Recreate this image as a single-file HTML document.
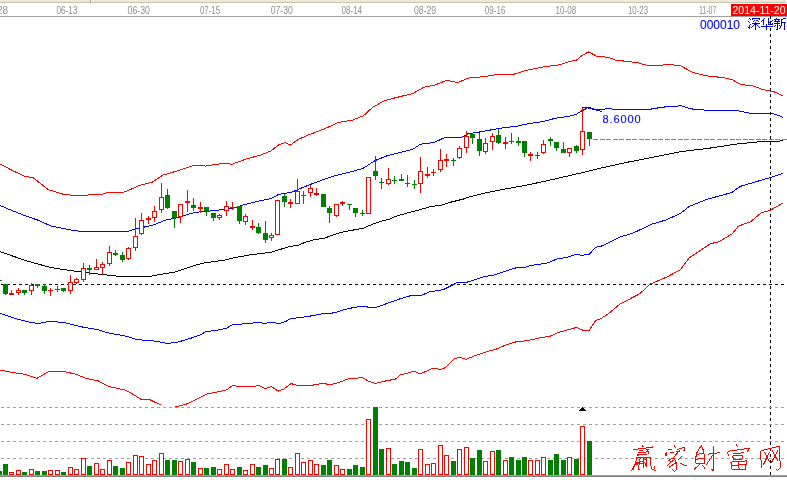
<!DOCTYPE html>
<html><head><meta charset="utf-8"><title>chart</title>
<style>html,body{margin:0;padding:0;background:#fff;}body{width:787px;height:483px;overflow:hidden;font-family:"Liberation Sans",sans-serif;}svg{display:block;}text{font-family:"Liberation Sans",sans-serif;}</style>
</head><body>
<svg width="787" height="483" viewBox="0 0 787 483">
<rect x="0" y="0" width="787" height="483" fill="#ffffff"/>
<g shape-rendering="crispEdges">
<rect x="0" y="0" width="786" height="2" fill="#ece9d8"/>
<rect x="0" y="2" width="786" height="1" fill="#c6c3b1"/>
<rect x="90" y="0" width="1" height="3" fill="#a8a594"/><rect x="91" y="0" width="1" height="2" fill="#ffffff"/>
<rect x="0" y="16" width="787" height="1" fill="#a0a0a0"/>
<rect x="731" y="4" width="56" height="12" fill="#ff0000"/>
</g>
<defs><filter id="gs" x="0" y="0" width="1" height="1" filterUnits="objectBoundingBox" color-interpolation-filters="sRGB"><feColorMatrix type="matrix" values="1 0 0 0 0 0 1 0 0 0 0 0 1 0 0 0 0 0 1 0"/></filter></defs>
<g filter="url(#gs)">
<text x="-3" y="14" font-size="10.2" fill="#8e8e8e" textLength="11" lengthAdjust="spacingAndGlyphs">28</text>
<text x="56.4" y="14" font-size="10.2" fill="#8e8e8e" textLength="21.1" lengthAdjust="spacingAndGlyphs">06-13</text>
<text x="127.6" y="14" font-size="10.2" fill="#8e8e8e" textLength="22.4" lengthAdjust="spacingAndGlyphs">06-30</text>
<text x="199.9" y="14" font-size="10.2" fill="#8e8e8e" textLength="20.2" lengthAdjust="spacingAndGlyphs">07-15</text>
<text x="270.8" y="14" font-size="10.2" fill="#8e8e8e" textLength="21.9" lengthAdjust="spacingAndGlyphs">07-30</text>
<text x="341.5" y="14" font-size="10.2" fill="#8e8e8e" textLength="20.6" lengthAdjust="spacingAndGlyphs">08-14</text>
<text x="413.9" y="14" font-size="10.2" fill="#8e8e8e" textLength="22.1" lengthAdjust="spacingAndGlyphs">08-29</text>
<text x="484.8" y="14" font-size="10.2" fill="#8e8e8e" textLength="20.6" lengthAdjust="spacingAndGlyphs">09-16</text>
<text x="555.6" y="14" font-size="10.2" fill="#8e8e8e" textLength="20.5" lengthAdjust="spacingAndGlyphs">10-08</text>
<text x="628.0" y="14" font-size="10.2" fill="#8e8e8e" textLength="20.0" lengthAdjust="spacingAndGlyphs">10-23</text>
<text x="698.9" y="14" font-size="10.2" fill="#8e8e8e" textLength="17.6" lengthAdjust="spacingAndGlyphs">11-07</text>
<text x="732.5" y="14.3" font-size="10.4" fill="#ffffff" textLength="53" lengthAdjust="spacingAndGlyphs">2014-11-20</text>
<text x="700" y="28.6" font-size="12" fill="#0000ff" stroke="#0000ff" stroke-width="0.1" textLength="40" lengthAdjust="spacingAndGlyphs">000010</text>
</g>
<path d="M749 18h1v1h-1zM752 18h8v1h-8zM750 19h1v1h-1zM752 19h1v1h-1zM759 19h1v1h-1zM754 20h1v1h-1zM756 20h2v1h-2zM748 21h1v1h-1zM753 21h1v1h-1zM758 21h1v1h-1zM749 22h1v1h-1zM755 22h1v1h-1zM752 23h8v1h-8zM750 24h1v1h-1zM754 24h3v1h-3zM749 25h1v1h-1zM753 25h1v1h-1zM755 25h1v1h-1zM757 25h1v1h-1zM749 26h1v1h-1zM752 26h1v1h-1zM755 26h1v1h-1zM758 26h1v1h-1zM748 27h2v1h-2zM751 27h1v1h-1zM755 27h1v1h-1zM759 27h1v1h-1zM749 28h1v1h-1zM755 28h1v1h-1zM755 29h1v1h-1z" fill="#0000ff" shape-rendering="crispEdges"/>
<path d="M764 18h1v1h-1zM768 18h1v1h-1zM763 19h1v1h-1zM768 19h1v1h-1zM762 20h2v1h-2zM768 20h1v1h-1zM772 20h1v1h-1zM761 21h1v1h-1zM763 21h1v1h-1zM768 21h1v1h-1zM770 21h2v1h-2zM763 22h1v1h-1zM768 22h2v1h-2zM763 23h1v1h-1zM768 23h1v1h-1zM772 23h1v1h-1zM763 24h1v1h-1zM766 24h1v1h-1zM768 24h5v1h-5zM766 25h1v1h-1zM761 26h12v1h-12zM766 27h1v1h-1zM766 28h1v1h-1zM766 29h1v1h-1z" fill="#0000ff" shape-rendering="crispEdges"/>
<path d="M776 18h1v1h-1zM783 18h3v1h-3zM774 19h6v1h-6zM781 19h2v1h-2zM775 20h1v1h-1zM778 20h1v1h-1zM781 20h1v1h-1zM774 21h6v1h-6zM781 21h1v1h-1zM777 22h1v1h-1zM781 22h5v1h-5zM774 23h6v1h-6zM781 23h1v1h-1zM784 23h1v1h-1zM777 24h1v1h-1zM781 24h1v1h-1zM784 24h1v1h-1zM775 25h1v1h-1zM777 25h1v1h-1zM779 25h1v1h-1zM781 25h1v1h-1zM784 25h1v1h-1zM774 26h1v1h-1zM777 26h1v1h-1zM780 26h1v1h-1zM784 26h1v1h-1zM777 27h1v1h-1zM780 27h1v1h-1zM784 27h1v1h-1zM777 28h1v1h-1zM779 28h1v1h-1zM784 28h1v1h-1zM776 29h2v1h-2zM784 29h1v1h-1z" fill="#0000ff" shape-rendering="crispEdges"/>
<defs><clipPath id="cm"><rect x="0" y="17" width="787" height="390"/></clipPath></defs>
<g shape-rendering="crispEdges">
<line x1="1" y1="284.5" x2="787" y2="284.5" stroke="#000" stroke-width="1" stroke-dasharray="3 3"/>
<line x1="770.5" y1="16" x2="770.5" y2="475" stroke="#000" stroke-width="1" stroke-dasharray="3 3"/>
<line x1="593" y1="139.5" x2="787" y2="139.5" stroke="#808080" stroke-width="1" stroke-dasharray="5 2 5 1"/>
<line x1="1" y1="407.5" x2="787" y2="407.5" stroke="#a0a0a0" stroke-width="1" stroke-dasharray="3 3"/>
<line x1="1" y1="424.5" x2="787" y2="424.5" stroke="#a0a0a0" stroke-width="1" stroke-dasharray="3 3"/>
<line x1="1" y1="441.5" x2="787" y2="441.5" stroke="#a0a0a0" stroke-width="1" stroke-dasharray="3 3"/>
<line x1="1" y1="458.5" x2="787" y2="458.5" stroke="#a0a0a0" stroke-width="1" stroke-dasharray="3 3"/>
<rect x="0" y="475" width="787" height="1" fill="#a0a0a0"/><rect x="0" y="476" width="787" height="1" fill="#808080"/>
</g>
<g clip-path="url(#cm)" shape-rendering="crispEdges">
<polyline points="0.0,163.8 12.7,170.7 25.4,176.5 33.0,177.5 48.3,189.7 63.5,194.3 76.2,195.6 101.6,194.3 109.0,192.3 124.5,192.0 139.8,185.4 152.5,182.0 162.6,175.2 177.9,170.7 193.0,165.6 200.0,165.1 205.0,166.1 225.4,163.0 231.8,164.3 245.7,159.2 261.0,154.9 271.2,150.8 278.8,144.7 285.1,142.7 290.2,145.2 297.8,139.7 309.3,134.6 324.2,128.9 338.5,122.5 352.7,120.0 363.4,115.8 372.3,107.6 384.7,100.5 398.9,96.9 413.2,93.4 423.8,87.3 434.5,85.2 447.0,80.2 457.6,82.7 468.3,78.1 484.3,76.6 496.8,74.5 512.8,74.5 527.0,70.2 544.8,66.7 559.0,64.9 570.0,61.5 576.9,59.9 582.4,55.2 588.7,51.9 596.2,56.0 608.6,57.4 615.5,60.1 637.5,62.6 647.2,65.4 661.0,65.4 666.5,64.3 680.3,65.6 692.7,72.5 710.6,76.7 721.6,77.2 732.7,80.0 741.0,84.7 752.0,85.5 763.0,89.6 774.0,91.8 782.8,95.7" fill="none" stroke="#ff0000" stroke-width="1"/>
<polyline points="0.0,370.0 12.7,372.6 25.4,374.4 36.8,378.4 48.3,371.8 63.5,371.3 76.2,374.4 86.4,378.4 97.8,380.7 109.3,386.6 124.5,389.9 132.1,393.7 141.0,399.3 150.0,399.8 160.6,404.9" fill="none" stroke="#ff0000" stroke-width="1"/><polyline points="174.0,407.4 188.0,403.6 200.0,397.6 206.4,394.2 215.2,392.4 226.7,389.9 233.0,385.3 238.1,386.6 253.4,386.6 258.4,385.3 265.6,388.6 271.2,386.6 278.3,391.1 283.9,389.1 291.0,383.5 296.6,385.3 311.8,385.3 322.0,383.5 330.9,384.5 339.8,382.2 349.9,378.2 357.6,378.2 361.9,377.2 369.0,381.5 375.3,383.5 385.5,381.0 395.7,379.0 400.0,375.1 414.0,371.3 420.3,373.9 433.0,368.3 440.7,369.5 445.7,367.5 454.6,358.6 459.7,357.3 466.1,359.4 473.7,356.1 486.4,351.8 496.6,349.0 506.7,344.6 516.9,341.6 527.1,340.8 539.8,337.8 549.9,336.3 557.6,332.7 567.7,329.9 576.6,327.4 583.0,330.2 589.3,330.2 595.8,320.2 600.0,319.2 608.1,313.9 620.5,303.7 639.8,293.8 649.7,284.3 666.2,277.3 680.3,269.9 689.1,257.9 699.7,250.8 710.2,243.8 719.0,241.7 732.1,233.9 738.4,226.2 750.7,221.6 761.3,212.8 770.1,210.4 783.1,203.0" fill="none" stroke="#ff0000" stroke-width="1"/>
<polyline points="0.0,205.5 12.7,210.8 25.4,215.9 38.1,220.2 50.8,226.0 63.5,228.6 76.2,230.9 89.0,231.6 127.0,231.6 137.2,228.6 152.5,225.3 165.2,220.2 177.9,217.7 190.6,213.4 200.0,211.8 212.7,210.8 233.0,208.3 240.7,205.7 255.9,201.7 271.2,198.6 278.8,194.3 291.5,192.3 301.7,187.9 314.4,182.9 332.1,176.5 347.4,172.7 362.6,168.6 375.3,160.5 388.0,155.4 400.0,152.6 412.7,149.4 420.3,144.3 434.3,142.4 445.1,137.4 461.0,137.4 468.6,133.5 476.2,132.6 489.0,130.3 500.0,128.2 517.0,126.2 529.8,123.4 542.5,121.6 555.2,118.3 567.9,116.5 576.0,114.5 577.5,113.5 579.0,112.5 580.5,111.5 582.5,110.5 584.5,109.5 586.5,108.5 588.0,107.5 590.5,107.5 591.5,108.5 593.0,108.5 594.5,109.5 604.5,109.5 605.5,108.5 611.8,108.5 612.5,109.5 651.0,109.5 651.9,108.5 657.0,108.5 657.6,107.5 664.0,107.5 664.6,106.5 675.0,106.5 680.3,105.5 691.3,108.9 707.9,110.3 735.4,110.3 749.2,113.1 763.0,113.9 774.0,113.9 782.8,117.2" fill="none" stroke="#0000ff" stroke-width="1"/>
<polyline points="0.0,313.4 15.2,318.5 30.5,322.3 38.1,323.5 49.6,321.3 63.5,322.5 81.3,326.8 96.6,329.4 109.3,333.2 127.0,336.3 137.2,339.6 152.5,340.8 167.7,343.4 177.9,342.1 190.6,338.3 200.0,335.0 206.4,331.4 215.2,330.7 226.7,328.1 233.0,324.3 248.3,323.8 257.2,322.3 264.8,323.5 271.2,322.3 278.8,323.5 285.1,321.8 291.0,318.5 301.7,317.4 314.4,315.4 324.5,313.4 334.7,312.9 346.1,309.1 355.0,307.3 362.6,306.0 369.0,307.3 376.6,307.3 385.5,304.0 400.0,298.8 410.2,295.8 421.6,295.3 429.2,292.0 443.2,289.7 457.2,282.6 467.3,282.1 483.9,276.7 494.0,275.0 514.4,268.1 524.5,267.3 532.1,265.3 547.4,263.0 556.3,259.2 567.7,257.2 576.6,254.1 581.7,255.4 589.3,254.1 595.8,247.3 601.0,246.3 620.5,236.8 632.8,233.2 652.1,224.1 666.2,219.9 680.3,213.5 689.1,206.5 706.7,199.4 731.4,192.7 740.2,186.4 770.1,177.6 783.1,173.4" fill="none" stroke="#0000ff" stroke-width="1"/>
<polyline points="0.0,251.6 25.4,260.5 50.8,267.6 76.2,271.4 101.6,274.5 119.4,276.3 150.0,276.3 175.3,271.9 180.0,270.4 195.2,265.2 202.9,263.2 225.7,259.9 231.8,258.2 248.6,255.1 271.5,252.1 290.0,246.4 297.6,245.5 305.2,242.3 315.4,239.4 324.3,238.3 331.9,235.3 340.8,232.4 351.0,230.5 363.7,228.0 373.9,223.6 384.0,220.3 390.0,219.2 392.7,217.3 405.4,213.5 418.1,210.3 430.8,206.5 441.0,205.2 451.2,202.1 463.9,198.9 470.0,196.7 486.5,192.7 503.0,189.4 519.6,186.4 536.1,183.1 552.6,179.5 569.1,175.7 585.6,171.9 600.0,168.3 625.1,162.7 652.7,157.2 680.3,151.7 707.9,148.4 735.4,144.2 757.5,142.0 782.8,140.9" fill="none" stroke="#000000" stroke-width="1"/>
<polyline points="582,107.5 585.5,107.5 602.5,111.5" fill="none" stroke="#0000ff" stroke-width="1"/>
</g>
<g filter="url(#gs)"><text x="602.5" y="122.8" font-size="11" fill="#0000ff" stroke="#0000ff" stroke-width="0.12" textLength="38" lengthAdjust="spacing">8.6000</text></g>
<g shape-rendering="crispEdges">
<rect x="0" y="280" width="2" height="1" fill="#008000"/>
<rect x="5" y="284" width="1" height="11" fill="#008000"/>
<rect x="3" y="284" width="5" height="10" fill="#008000"/>
<rect x="11" y="290" width="1" height="5" fill="#ff0000"/>
<rect x="9" y="293" width="5" height="2" fill="#ff0000"/>
<rect x="18" y="288" width="1" height="7" fill="#ff0000"/>
<rect x="16" y="290" width="5" height="3" fill="#ff0000"/>
<rect x="17" y="291" width="3" height="1" fill="#fff"/>
<rect x="24" y="290" width="1" height="5" fill="#008000"/>
<rect x="22" y="290" width="5" height="3" fill="#008000"/>
<rect x="31" y="283" width="1" height="12" fill="#ff0000"/>
<rect x="29" y="285" width="5" height="6" fill="#ff0000"/>
<rect x="30" y="286" width="3" height="4" fill="#fff"/>
<rect x="37" y="284" width="1" height="4" fill="#008000"/>
<rect x="35" y="284" width="5" height="2" fill="#008000"/>
<rect x="44" y="284" width="1" height="10" fill="#008000"/>
<rect x="42" y="286" width="5" height="5" fill="#008000"/>
<rect x="50" y="288" width="1" height="8" fill="#ff0000"/>
<rect x="48" y="290" width="5" height="1" fill="#ff0000"/>
<rect x="57" y="286" width="1" height="6" fill="#ff0000"/>
<rect x="55" y="289" width="5" height="1" fill="#ff0000"/>
<rect x="63" y="288" width="1" height="4" fill="#008000"/>
<rect x="61" y="288" width="5" height="3" fill="#008000"/>
<rect x="70" y="275" width="1" height="19" fill="#ff0000"/>
<rect x="68" y="282" width="5" height="9" fill="#ff0000"/>
<rect x="69" y="283" width="3" height="7" fill="#fff"/>
<rect x="76" y="278" width="1" height="6" fill="#ff0000"/>
<rect x="74" y="279" width="5" height="4" fill="#ff0000"/>
<rect x="75" y="280" width="3" height="2" fill="#fff"/>
<rect x="83" y="263" width="1" height="19" fill="#ff0000"/>
<rect x="81" y="268" width="5" height="12" fill="#ff0000"/>
<rect x="82" y="269" width="3" height="10" fill="#fff"/>
<rect x="89" y="265" width="1" height="10" fill="#008000"/>
<rect x="87" y="268" width="5" height="2" fill="#008000"/>
<rect x="96" y="259" width="1" height="11" fill="#ff0000"/>
<rect x="94" y="267" width="5" height="3" fill="#ff0000"/>
<rect x="95" y="268" width="3" height="1" fill="#fff"/>
<rect x="102" y="262" width="1" height="12" fill="#ff0000"/>
<rect x="100" y="264" width="5" height="4" fill="#ff0000"/>
<rect x="101" y="265" width="3" height="2" fill="#fff"/>
<rect x="109" y="246" width="1" height="20" fill="#ff0000"/>
<rect x="107" y="252" width="5" height="12" fill="#ff0000"/>
<rect x="108" y="253" width="3" height="10" fill="#fff"/>
<rect x="115" y="250" width="1" height="6" fill="#008000"/>
<rect x="113" y="253" width="5" height="2" fill="#008000"/>
<rect x="122" y="252" width="1" height="10" fill="#008000"/>
<rect x="120" y="255" width="5" height="5" fill="#008000"/>
<rect x="128" y="247" width="1" height="13" fill="#ff0000"/>
<rect x="126" y="248" width="5" height="11" fill="#ff0000"/>
<rect x="127" y="249" width="3" height="9" fill="#fff"/>
<rect x="135" y="218" width="1" height="33" fill="#ff0000"/>
<rect x="133" y="236" width="5" height="12" fill="#ff0000"/>
<rect x="134" y="237" width="3" height="10" fill="#fff"/>
<rect x="141" y="213" width="1" height="22" fill="#ff0000"/>
<rect x="139" y="220" width="5" height="14" fill="#ff0000"/>
<rect x="140" y="221" width="3" height="12" fill="#fff"/>
<rect x="148" y="216" width="1" height="8" fill="#ff0000"/>
<rect x="146" y="218" width="5" height="2" fill="#ff0000"/>
<rect x="154" y="206" width="1" height="16" fill="#ff0000"/>
<rect x="152" y="211" width="5" height="7" fill="#ff0000"/>
<rect x="153" y="212" width="3" height="5" fill="#fff"/>
<rect x="161" y="183" width="1" height="30" fill="#ff0000"/>
<rect x="159" y="197" width="5" height="13" fill="#ff0000"/>
<rect x="160" y="198" width="3" height="11" fill="#fff"/>
<rect x="167" y="189" width="1" height="20" fill="#008000"/>
<rect x="165" y="195" width="5" height="13" fill="#008000"/>
<rect x="174" y="211" width="1" height="17" fill="#008000"/>
<rect x="172" y="211" width="5" height="7" fill="#008000"/>
<rect x="180" y="204" width="1" height="19" fill="#ff0000"/>
<rect x="178" y="204" width="5" height="13" fill="#ff0000"/>
<rect x="179" y="205" width="3" height="11" fill="#fff"/>
<rect x="187" y="190" width="1" height="22" fill="#ff0000"/>
<rect x="185" y="201" width="5" height="2" fill="#ff0000"/>
<rect x="193" y="198" width="1" height="13" fill="#008000"/>
<rect x="191" y="205" width="5" height="3" fill="#008000"/>
<rect x="200" y="202" width="1" height="11" fill="#ff0000"/>
<rect x="198" y="207" width="5" height="2" fill="#ff0000"/>
<rect x="206" y="207" width="1" height="9" fill="#008000"/>
<rect x="204" y="207" width="5" height="4" fill="#008000"/>
<rect x="213" y="213" width="1" height="8" fill="#008000"/>
<rect x="211" y="213" width="5" height="5" fill="#008000"/>
<rect x="219" y="214" width="1" height="6" fill="#ff0000"/>
<rect x="217" y="215" width="5" height="3" fill="#ff0000"/>
<rect x="218" y="216" width="3" height="1" fill="#fff"/>
<rect x="226" y="201" width="1" height="15" fill="#ff0000"/>
<rect x="224" y="206" width="5" height="5" fill="#ff0000"/>
<rect x="225" y="207" width="3" height="3" fill="#fff"/>
<rect x="232" y="202" width="1" height="8" fill="#ff0000"/>
<rect x="230" y="207" width="5" height="1" fill="#ff0000"/>
<rect x="239" y="206" width="1" height="18" fill="#008000"/>
<rect x="237" y="206" width="5" height="15" fill="#008000"/>
<rect x="245" y="214" width="1" height="11" fill="#ff0000"/>
<rect x="243" y="216" width="5" height="6" fill="#ff0000"/>
<rect x="244" y="217" width="3" height="4" fill="#fff"/>
<rect x="252" y="220" width="1" height="10" fill="#ff0000"/>
<rect x="250" y="226" width="5" height="2" fill="#ff0000"/>
<rect x="258" y="223" width="1" height="11" fill="#008000"/>
<rect x="256" y="227" width="5" height="6" fill="#008000"/>
<rect x="265" y="221" width="1" height="22" fill="#008000"/>
<rect x="263" y="233" width="5" height="7" fill="#008000"/>
<rect x="271" y="233" width="1" height="8" fill="#ff0000"/>
<rect x="269" y="235" width="5" height="3" fill="#ff0000"/>
<rect x="270" y="236" width="3" height="1" fill="#fff"/>
<rect x="277" y="200" width="1" height="35" fill="#ff0000"/>
<rect x="275" y="200" width="5" height="35" fill="#ff0000"/>
<rect x="276" y="201" width="3" height="33" fill="#fff"/>
<rect x="284" y="194" width="1" height="13" fill="#008000"/>
<rect x="282" y="196" width="5" height="6" fill="#008000"/>
<rect x="290" y="199" width="1" height="9" fill="#ff0000"/>
<rect x="288" y="202" width="5" height="2" fill="#ff0000"/>
<rect x="297" y="179" width="1" height="25" fill="#ff0000"/>
<rect x="295" y="191" width="5" height="13" fill="#ff0000"/>
<rect x="296" y="192" width="3" height="11" fill="#fff"/>
<rect x="303" y="191" width="1" height="13" fill="#ff0000"/>
<rect x="301" y="195" width="5" height="1" fill="#ff0000"/>
<rect x="310" y="185" width="1" height="12" fill="#ff0000"/>
<rect x="308" y="188" width="5" height="5" fill="#ff0000"/>
<rect x="309" y="189" width="3" height="3" fill="#fff"/>
<rect x="316" y="188" width="1" height="8" fill="#ff0000"/>
<rect x="314" y="193" width="5" height="2" fill="#ff0000"/>
<rect x="323" y="194" width="1" height="13" fill="#008000"/>
<rect x="321" y="194" width="5" height="13" fill="#008000"/>
<rect x="329" y="206" width="1" height="17" fill="#008000"/>
<rect x="327" y="208" width="5" height="5" fill="#008000"/>
<rect x="336" y="204" width="1" height="13" fill="#ff0000"/>
<rect x="334" y="204" width="5" height="12" fill="#ff0000"/>
<rect x="335" y="205" width="3" height="10" fill="#fff"/>
<rect x="342" y="201" width="1" height="5" fill="#ff0000"/>
<rect x="340" y="202" width="5" height="2" fill="#ff0000"/>
<rect x="349" y="204" width="1" height="6" fill="#008000"/>
<rect x="347" y="204" width="5" height="1" fill="#008000"/>
<rect x="355" y="208" width="1" height="9" fill="#008000"/>
<rect x="353" y="208" width="5" height="5" fill="#008000"/>
<rect x="362" y="210" width="1" height="6" fill="#008000"/>
<rect x="360" y="213" width="5" height="1" fill="#008000"/>
<rect x="368" y="177" width="1" height="37" fill="#ff0000"/>
<rect x="366" y="177" width="5" height="37" fill="#ff0000"/>
<rect x="367" y="178" width="3" height="35" fill="#fff"/>
<rect x="375" y="156" width="1" height="24" fill="#008000"/>
<rect x="373" y="171" width="5" height="5" fill="#008000"/>
<rect x="381" y="178" width="1" height="11" fill="#008000"/>
<rect x="379" y="182" width="5" height="1" fill="#008000"/>
<rect x="388" y="168" width="1" height="17" fill="#ff0000"/>
<rect x="386" y="179" width="5" height="5" fill="#ff0000"/>
<rect x="387" y="180" width="3" height="3" fill="#fff"/>
<rect x="394" y="176" width="1" height="8" fill="#008000"/>
<rect x="392" y="180" width="5" height="1" fill="#008000"/>
<rect x="401" y="174" width="1" height="7" fill="#008000"/>
<rect x="399" y="179" width="5" height="2" fill="#008000"/>
<rect x="407" y="175" width="1" height="12" fill="#008000"/>
<rect x="405" y="183" width="5" height="1" fill="#008000"/>
<rect x="414" y="180" width="1" height="9" fill="#008000"/>
<rect x="412" y="184" width="5" height="1" fill="#008000"/>
<rect x="420" y="157" width="1" height="36" fill="#ff0000"/>
<rect x="418" y="171" width="5" height="13" fill="#ff0000"/>
<rect x="419" y="172" width="3" height="11" fill="#fff"/>
<rect x="427" y="167" width="1" height="11" fill="#ff0000"/>
<rect x="425" y="174" width="5" height="2" fill="#ff0000"/>
<rect x="433" y="169" width="1" height="7" fill="#ff0000"/>
<rect x="431" y="172" width="5" height="1" fill="#ff0000"/>
<rect x="440" y="149" width="1" height="23" fill="#ff0000"/>
<rect x="438" y="160" width="5" height="10" fill="#ff0000"/>
<rect x="439" y="161" width="3" height="8" fill="#fff"/>
<rect x="446" y="154" width="1" height="13" fill="#ff0000"/>
<rect x="444" y="159" width="5" height="2" fill="#ff0000"/>
<rect x="453" y="158" width="1" height="8" fill="#008000"/>
<rect x="451" y="160" width="5" height="1" fill="#008000"/>
<rect x="459" y="146" width="1" height="13" fill="#ff0000"/>
<rect x="457" y="148" width="5" height="10" fill="#ff0000"/>
<rect x="458" y="149" width="3" height="8" fill="#fff"/>
<rect x="466" y="131" width="1" height="22" fill="#ff0000"/>
<rect x="464" y="136" width="5" height="12" fill="#ff0000"/>
<rect x="465" y="137" width="3" height="10" fill="#fff"/>
<rect x="472" y="133" width="1" height="11" fill="#008000"/>
<rect x="470" y="134" width="5" height="4" fill="#008000"/>
<rect x="479" y="133" width="1" height="23" fill="#008000"/>
<rect x="477" y="139" width="5" height="12" fill="#008000"/>
<rect x="485" y="138" width="1" height="16" fill="#ff0000"/>
<rect x="483" y="143" width="5" height="9" fill="#ff0000"/>
<rect x="484" y="144" width="3" height="7" fill="#fff"/>
<rect x="492" y="133" width="1" height="17" fill="#ff0000"/>
<rect x="490" y="136" width="5" height="6" fill="#ff0000"/>
<rect x="491" y="137" width="3" height="4" fill="#fff"/>
<rect x="498" y="129" width="1" height="15" fill="#008000"/>
<rect x="496" y="135" width="5" height="8" fill="#008000"/>
<rect x="505" y="137" width="1" height="12" fill="#ff0000"/>
<rect x="503" y="142" width="5" height="2" fill="#ff0000"/>
<rect x="511" y="133" width="1" height="11" fill="#008000"/>
<rect x="509" y="141" width="5" height="1" fill="#008000"/>
<rect x="518" y="137" width="1" height="9" fill="#008000"/>
<rect x="516" y="141" width="5" height="2" fill="#008000"/>
<rect x="524" y="141" width="1" height="16" fill="#008000"/>
<rect x="522" y="141" width="5" height="12" fill="#008000"/>
<rect x="530" y="152" width="1" height="9" fill="#ff0000"/>
<rect x="528" y="154" width="5" height="2" fill="#ff0000"/>
<rect x="537" y="152" width="1" height="7" fill="#ff0000"/>
<rect x="535" y="155" width="5" height="1" fill="#ff0000"/>
<rect x="543" y="140" width="1" height="14" fill="#ff0000"/>
<rect x="541" y="144" width="5" height="9" fill="#ff0000"/>
<rect x="542" y="145" width="3" height="7" fill="#fff"/>
<rect x="550" y="137" width="1" height="9" fill="#008000"/>
<rect x="548" y="139" width="5" height="2" fill="#008000"/>
<rect x="556" y="142" width="1" height="9" fill="#008000"/>
<rect x="554" y="142" width="5" height="6" fill="#008000"/>
<rect x="563" y="142" width="1" height="11" fill="#008000"/>
<rect x="561" y="149" width="5" height="4" fill="#008000"/>
<rect x="569" y="148" width="1" height="9" fill="#ff0000"/>
<rect x="567" y="148" width="5" height="5" fill="#ff0000"/>
<rect x="568" y="149" width="3" height="3" fill="#fff"/>
<rect x="576" y="145" width="1" height="8" fill="#008000"/>
<rect x="574" y="146" width="5" height="5" fill="#008000"/>
<rect x="582" y="108" width="1" height="47" fill="#ff0000"/>
<rect x="580" y="131" width="5" height="19" fill="#ff0000"/>
<rect x="581" y="132" width="3" height="17" fill="#fff"/>
<rect x="589" y="132" width="1" height="14" fill="#008000"/>
<rect x="587" y="132" width="5" height="7" fill="#008000"/>
<rect x="0" y="471" width="2" height="4" fill="#008000"/>
<rect x="3" y="464" width="5" height="11" fill="#008000"/>
<rect x="9" y="472" width="5" height="3" fill="#ff0000"/>
<rect x="10" y="473" width="3" height="1" fill="#fff"/>
<rect x="16" y="470" width="5" height="5" fill="#ff0000"/>
<rect x="17" y="471" width="3" height="3" fill="#fff"/>
<rect x="22" y="472" width="5" height="3" fill="#008000"/>
<rect x="29" y="469" width="5" height="6" fill="#ff0000"/>
<rect x="30" y="470" width="3" height="4" fill="#fff"/>
<rect x="35" y="471" width="5" height="4" fill="#008000"/>
<rect x="42" y="471" width="5" height="4" fill="#008000"/>
<rect x="48" y="470" width="5" height="5" fill="#ff0000"/>
<rect x="49" y="471" width="3" height="3" fill="#fff"/>
<rect x="55" y="470" width="5" height="5" fill="#ff0000"/>
<rect x="56" y="471" width="3" height="3" fill="#fff"/>
<rect x="61" y="472" width="5" height="3" fill="#008000"/>
<rect x="68" y="467" width="5" height="8" fill="#ff0000"/>
<rect x="69" y="468" width="3" height="6" fill="#fff"/>
<rect x="74" y="469" width="5" height="6" fill="#ff0000"/>
<rect x="75" y="470" width="3" height="4" fill="#fff"/>
<rect x="81" y="458" width="5" height="17" fill="#ff0000"/>
<rect x="82" y="459" width="3" height="15" fill="#fff"/>
<rect x="87" y="466" width="5" height="9" fill="#008000"/>
<rect x="94" y="463" width="5" height="12" fill="#ff0000"/>
<rect x="95" y="464" width="3" height="10" fill="#fff"/>
<rect x="100" y="469" width="5" height="6" fill="#ff0000"/>
<rect x="101" y="470" width="3" height="4" fill="#fff"/>
<rect x="107" y="460" width="5" height="15" fill="#ff0000"/>
<rect x="108" y="461" width="3" height="13" fill="#fff"/>
<rect x="113" y="466" width="5" height="9" fill="#008000"/>
<rect x="120" y="468" width="5" height="7" fill="#008000"/>
<rect x="126" y="462" width="5" height="13" fill="#ff0000"/>
<rect x="127" y="463" width="3" height="11" fill="#fff"/>
<rect x="133" y="455" width="5" height="20" fill="#ff0000"/>
<rect x="134" y="456" width="3" height="18" fill="#fff"/>
<rect x="139" y="456" width="5" height="19" fill="#ff0000"/>
<rect x="140" y="457" width="3" height="17" fill="#fff"/>
<rect x="146" y="464" width="5" height="11" fill="#ff0000"/>
<rect x="147" y="465" width="3" height="9" fill="#fff"/>
<rect x="152" y="460" width="5" height="15" fill="#ff0000"/>
<rect x="153" y="461" width="3" height="13" fill="#fff"/>
<rect x="159" y="453" width="5" height="22" fill="#ff0000"/>
<rect x="160" y="454" width="3" height="20" fill="#fff"/>
<rect x="165" y="460" width="5" height="15" fill="#008000"/>
<rect x="172" y="460" width="5" height="15" fill="#008000"/>
<rect x="178" y="461" width="5" height="14" fill="#ff0000"/>
<rect x="179" y="462" width="3" height="12" fill="#fff"/>
<rect x="185" y="459" width="5" height="16" fill="#ff0000"/>
<rect x="186" y="460" width="3" height="14" fill="#fff"/>
<rect x="191" y="462" width="5" height="13" fill="#008000"/>
<rect x="198" y="468" width="5" height="7" fill="#ff0000"/>
<rect x="199" y="469" width="3" height="5" fill="#fff"/>
<rect x="204" y="468" width="5" height="7" fill="#008000"/>
<rect x="211" y="467" width="5" height="8" fill="#008000"/>
<rect x="217" y="469" width="5" height="6" fill="#ff0000"/>
<rect x="218" y="470" width="3" height="4" fill="#fff"/>
<rect x="224" y="464" width="5" height="11" fill="#ff0000"/>
<rect x="225" y="465" width="3" height="9" fill="#fff"/>
<rect x="230" y="469" width="5" height="6" fill="#ff0000"/>
<rect x="231" y="470" width="3" height="4" fill="#fff"/>
<rect x="237" y="467" width="5" height="8" fill="#008000"/>
<rect x="243" y="470" width="5" height="5" fill="#ff0000"/>
<rect x="244" y="471" width="3" height="3" fill="#fff"/>
<rect x="250" y="464" width="5" height="11" fill="#ff0000"/>
<rect x="251" y="465" width="3" height="9" fill="#fff"/>
<rect x="256" y="467" width="5" height="8" fill="#008000"/>
<rect x="263" y="465" width="5" height="10" fill="#008000"/>
<rect x="269" y="468" width="5" height="7" fill="#ff0000"/>
<rect x="270" y="469" width="3" height="5" fill="#fff"/>
<rect x="275" y="459" width="5" height="16" fill="#ff0000"/>
<rect x="276" y="460" width="3" height="14" fill="#fff"/>
<rect x="282" y="459" width="5" height="16" fill="#008000"/>
<rect x="288" y="467" width="5" height="8" fill="#ff0000"/>
<rect x="289" y="468" width="3" height="6" fill="#fff"/>
<rect x="295" y="453" width="5" height="22" fill="#ff0000"/>
<rect x="296" y="454" width="3" height="20" fill="#fff"/>
<rect x="301" y="462" width="5" height="13" fill="#ff0000"/>
<rect x="302" y="463" width="3" height="11" fill="#fff"/>
<rect x="308" y="460" width="5" height="15" fill="#ff0000"/>
<rect x="309" y="461" width="3" height="13" fill="#fff"/>
<rect x="314" y="464" width="5" height="11" fill="#ff0000"/>
<rect x="315" y="465" width="3" height="9" fill="#fff"/>
<rect x="321" y="465" width="5" height="10" fill="#008000"/>
<rect x="327" y="460" width="5" height="15" fill="#008000"/>
<rect x="334" y="465" width="5" height="10" fill="#ff0000"/>
<rect x="335" y="466" width="3" height="8" fill="#fff"/>
<rect x="340" y="469" width="5" height="6" fill="#ff0000"/>
<rect x="341" y="470" width="3" height="4" fill="#fff"/>
<rect x="347" y="469" width="5" height="6" fill="#008000"/>
<rect x="353" y="465" width="5" height="10" fill="#008000"/>
<rect x="360" y="467" width="5" height="8" fill="#008000"/>
<rect x="366" y="419" width="5" height="56" fill="#ff0000"/>
<rect x="367" y="420" width="3" height="54" fill="#fff"/>
<rect x="373" y="407" width="5" height="68" fill="#008000"/>
<rect x="379" y="449" width="5" height="26" fill="#008000"/>
<rect x="386" y="448" width="5" height="27" fill="#ff0000"/>
<rect x="387" y="449" width="3" height="25" fill="#fff"/>
<rect x="392" y="464" width="5" height="11" fill="#008000"/>
<rect x="399" y="461" width="5" height="14" fill="#008000"/>
<rect x="405" y="462" width="5" height="13" fill="#008000"/>
<rect x="412" y="468" width="5" height="7" fill="#008000"/>
<rect x="418" y="449" width="5" height="26" fill="#ff0000"/>
<rect x="419" y="450" width="3" height="24" fill="#fff"/>
<rect x="425" y="464" width="5" height="11" fill="#ff0000"/>
<rect x="426" y="465" width="3" height="9" fill="#fff"/>
<rect x="431" y="463" width="5" height="12" fill="#ff0000"/>
<rect x="432" y="464" width="3" height="10" fill="#fff"/>
<rect x="438" y="445" width="5" height="30" fill="#ff0000"/>
<rect x="439" y="446" width="3" height="28" fill="#fff"/>
<rect x="444" y="455" width="5" height="20" fill="#ff0000"/>
<rect x="445" y="456" width="3" height="18" fill="#fff"/>
<rect x="451" y="461" width="5" height="14" fill="#008000"/>
<rect x="457" y="449" width="5" height="26" fill="#ff0000"/>
<rect x="458" y="450" width="3" height="24" fill="#fff"/>
<rect x="464" y="447" width="5" height="28" fill="#ff0000"/>
<rect x="465" y="448" width="3" height="26" fill="#fff"/>
<rect x="470" y="458" width="5" height="17" fill="#008000"/>
<rect x="477" y="450" width="5" height="25" fill="#008000"/>
<rect x="483" y="461" width="5" height="14" fill="#ff0000"/>
<rect x="484" y="462" width="3" height="12" fill="#fff"/>
<rect x="490" y="451" width="5" height="24" fill="#ff0000"/>
<rect x="491" y="452" width="3" height="22" fill="#fff"/>
<rect x="496" y="450" width="5" height="25" fill="#008000"/>
<rect x="503" y="460" width="5" height="15" fill="#ff0000"/>
<rect x="504" y="461" width="3" height="13" fill="#fff"/>
<rect x="509" y="457" width="5" height="18" fill="#008000"/>
<rect x="516" y="460" width="5" height="15" fill="#008000"/>
<rect x="522" y="457" width="5" height="18" fill="#008000"/>
<rect x="528" y="460" width="5" height="15" fill="#ff0000"/>
<rect x="529" y="461" width="3" height="13" fill="#fff"/>
<rect x="535" y="460" width="5" height="15" fill="#ff0000"/>
<rect x="536" y="461" width="3" height="13" fill="#fff"/>
<rect x="541" y="457" width="5" height="18" fill="#ff0000"/>
<rect x="542" y="458" width="3" height="16" fill="#fff"/>
<rect x="548" y="460" width="5" height="15" fill="#008000"/>
<rect x="554" y="454" width="5" height="21" fill="#008000"/>
<rect x="561" y="460" width="5" height="15" fill="#008000"/>
<rect x="567" y="457" width="5" height="18" fill="#ff0000"/>
<rect x="568" y="458" width="3" height="16" fill="#fff"/>
<rect x="574" y="459" width="5" height="16" fill="#008000"/>
<rect x="580" y="426" width="5" height="49" fill="#ff0000"/>
<rect x="581" y="427" width="3" height="47" fill="#fff"/>
<rect x="587" y="441" width="5" height="34" fill="#008000"/>
<path d="M582 407h1v1h1v1h1v1h1v1h-7v-1h1v-1h1v-1h1z" fill="#000"/>
</g>
<path d="M641.8 445.3 L643.9 447.0 M633.3 449.5 L652.4 447.3 M652.0 446.1 L652.4 447.7 M638.6 450.5 L643.0 450.1 M645.5 450.1 L649.1 449.7 M637.8 452.6 L648.3 451.8 M647.9 450.1 L648.3 454.2 M637.3 454.2 L638.2 456.0 M638.2 454.8 L647.5 454.0 M636.1 457.9 L651.6 457.0 M636.9 458.3 L634.9 464.8 L632.5 469.6 L633.7 468.8 M634.9 462.7 L638.6 462.7 M634.9 463.8 L638.6 463.8 M634.9 464.8 L638.4 464.8 M640.2 458.3 L638.2 470.0 M638.2 468.8 L640.2 469.2 M643.4 458.3 L643.0 468.8 M640.2 461.5 L643.4 461.3 M640.2 464.0 L643.3 463.8 M646.7 458.3 L646.3 467.2 M643.4 459.5 L646.7 459.3 M644.7 461.5 L645.5 465.6 M650.0 457.9 L650.4 464.8 L652.4 469.6 L656.5 470.5 M654.0 465.6 L654.8 468.8" fill="none" stroke="#ff0000" stroke-width="1" shape-rendering="crispEdges"/>
<path d="M674.3 445.3 L675.3 448.1 M666.2 451.8 L665.4 455.8 M666.9 451.9 L666.0 455.8 M667.8 449.9 L671.5 449.3 M676.8 449.7 L684.1 447.3 L684.9 450.1 L682.5 451.3 M670.3 452.7 L673.9 452.2 M676.0 451.9 L679.6 451.3 M680.0 450.1 L673.5 457.4 L676.0 462.3 L676.8 469.6 L674.3 471.3 L671.9 468.8 M673.1 457.9 L667.8 461.1 M674.3 459.5 L667.0 465.6 M676.0 462.7 L668.7 467.6 M669.9 461.1 L671.1 461.9 M680.8 456.2 L682.1 457.0 M681.7 456.6 L678.0 460.3 M680.0 463.0 L686.5 466.0 M685.3 465.2 L686.5 466.4" fill="none" stroke="#ff0000" stroke-width="1" shape-rendering="crispEdges"/>
<path d="M701.2 445.4 L696.7 453.0 L695.5 459.1 L696.1 464.0 M701.2 445.4 L703.4 450.5 L704.6 457.9 L704.9 464.0 M696.7 454.2 L703.7 453.7 M695.9 459.1 L704.6 458.7 M696.1 464.0 L704.9 463.7 M699.8 464.0 L694.3 469.4 M701.6 464.6 L705.2 468.6 M707.7 454.2 L719.9 452.7 M713.2 445.7 L713.8 470.7 L711.3 469.4 M712.6 455.4 L706.5 464.6" fill="none" stroke="#ff0000" stroke-width="1" shape-rendering="crispEdges"/>
<path d="M735.9 444.4 L738.5 447.5 M727.7 452.0 L728.3 455.8 M728.3 451.3 L749.3 448.2 L746.7 452.6 M733.4 453.9 L744.2 452.6 M732.7 455.8 L733.4 459.6 L742.3 459.0 L742.9 455.2 L732.7 455.8 M730.8 462.1 L732.1 469.1 L745.4 469.1 L746.7 460.9 L730.8 462.1 M738.5 461.5 L739.1 469.1 M731.5 465.3 L746.1 464.7" fill="none" stroke="#ff0000" stroke-width="1" shape-rendering="crispEdges"/>
<path d="M760.7 450.7 L761.3 468.5 M760.7 450.7 L779.1 446.3 L780.4 467.2 L777.9 470.4 L775.9 469.1 M764.5 452.0 L769.6 462.1 M769.6 452.0 L763.2 465.3 M772.1 450.7 L777.9 460.9 M777.9 450.7 L770.9 463.4" fill="none" stroke="#ff0000" stroke-width="1" shape-rendering="crispEdges"/>
</svg>
</body></html>
